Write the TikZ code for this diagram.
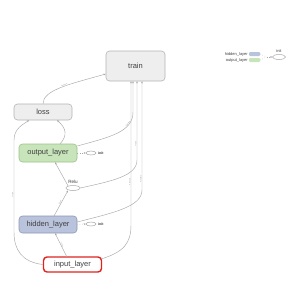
\documentclass[tikz,border=0pt]{standalone}
\usepackage{fontspec}
\setmainfont{Liberation Sans}
\usetikzlibrary{arrows.meta,shapes.geometric,positioning}
\definecolor{boxgray}{HTML}{EEEEEE}
\definecolor{boxgrayline}{HTML}{B5B5B5}
\definecolor{greenfill}{HTML}{C8E4BA}
\definecolor{greenline}{HTML}{9CC488}
\definecolor{bluefill}{HTML}{B9C3DB}
\definecolor{blueline}{HTML}{8C98B8}
\definecolor{redline}{HTML}{E0231F}
\definecolor{edgecol}{HTML}{A8A8A8}
\definecolor{txt}{HTML}{404040}
\tikzset{
  opbox/.style={draw=boxgrayline,fill=boxgray,rounded corners=3.5pt,line width=0.6pt,
    inner sep=0pt,font=\fontsize{7.5}{8}\selectfont,text=txt},
  greenbox/.style={opbox,draw=greenline,fill=greenfill},
  bluebox/.style={opbox,draw=blueline,fill=bluefill},
  redbox/.style={opbox,draw=redline,fill=white,line width=1.4pt},
  smallell/.style={draw=edgecol,fill=white,ellipse,inner sep=0pt,line width=0.5pt},
  tinytxt/.style={font=\fontsize{4}{4}\selectfont,text=txt,inner sep=0pt},
  edge/.style={draw=edgecol,line width=0.45pt,-{Stealth[length=2.2pt,width=1.8pt]}},
  ctrl/.style={draw=edgecol,line width=0.45pt,dotted,-{Stealth[length=2pt,width=1.8pt]}},
  elab/.style={font=\fontsize{1.6}{1.6}\selectfont,text=gray,inner sep=0pt,sloped},
  swatch/.style={rounded corners=1pt,inner sep=0pt,minimum width=11pt,minimum height=4pt}
}
\begin{document}
\begin{tikzpicture}[x=1pt,y=-1pt]
\useasboundingbox[fill=white] (0,0) rectangle (300,300);

% nodes
\node[opbox,minimum width=59pt,minimum height=30pt] (train) at (135.5,66) {train};
\node[opbox,minimum width=58pt,minimum height=16pt] (loss) at (43,112) {loss};
\node[greenbox,minimum width=58pt,minimum height=18pt] (out) at (48,153) {output\_layer};
\node[bluebox,minimum width=58pt,minimum height=17pt] (hid) at (48,224.5) {hidden\_layer};
\node[redbox,minimum width=58pt,minimum height=15pt] (inp) at (72.5,264.5) {input\_layer};
\node[smallell,minimum width=14pt,minimum height=5pt] (relu) at (73,188) {};
\node[tinytxt,font=\fontsize{4.6}{4.6}\selectfont,above=1.5pt of relu] (relulab) {Relu};
\node[smallell,minimum width=10pt,minimum height=4pt] (init1) at (91,153) {};
\node[tinytxt,font=\fontsize{3.5}{3.5}\selectfont\bfseries,anchor=west] (init1lab) at (98,153) {init};
\node[smallell,minimum width=10pt,minimum height=4pt] (init2) at (91,224) {};
\node[tinytxt,font=\fontsize{3.5}{3.5}\selectfont\bfseries,anchor=west] (init2lab) at (98,224) {init};

% legend
\node[swatch,fill=bluefill] (sw1) at (254.5,54) {};
\node[swatch,fill=greenfill] (sw2) at (254.5,60) {};
\node[tinytxt,anchor=east] (lg1) at (248,54) {hidden\_layer};
\node[tinytxt,anchor=east] (lg2) at (248,60) {output\_layer};
\node[smallell,minimum width=13pt,minimum height=5pt] (init3) at (279,57) {};
\node[tinytxt,above=2pt of init3] (init3lab) {init};
\coordinate (lj) at (267,57);
\draw[draw=edgecol,line width=0.45pt,dotted] (sw1.east) -- (lj);
\draw[draw=edgecol,line width=0.45pt,dotted] (sw2.east) -- (lj);
\draw[ctrl] (lj) -- (init3.west);

% control edges
\draw[ctrl] (out.east) -- (init1.west);
\draw[ctrl] (hid.east) -- (init2.west);

% data edges
\draw[edge] (loss.north) .. controls (43,90) and (70,84) .. node[elab,above=0.4pt,pos=0.55]{2 tensors} (train.west |- 0,74);
\draw[edge] (60,144) .. controls (68,135) and (66,128) .. node[elab,right=0.3pt,pos=0.5]{?} (57,120.2);
\draw[edge] (inp.west) .. controls (22,262) and (14,250) .. (14,232) -- node[elab,above=0.3pt,pos=0.4]{?×784} (14,140) .. controls (14,128) and (24,124) .. (29,120.2);
\draw[edge] (out.east |- 0,146) .. controls (110,137) and (133,132) .. node[elab,above=0.3pt,pos=0.75]{6 tensors} (133,112) -- (133,81.2);
\draw[edge] (101,259) .. controls (124,252) and (131,243) .. (131,225) -- node[elab,above=0.3pt,pos=0.3]{4 tensors} (131,81.2);
\draw[edge] (relu.east) .. controls (112,181) and (137,176) .. (137,160) -- node[elab,above=0.3pt,pos=0.2]{?×500} (137,81.2);
\draw[edge] (hid.east |- 0,222) .. controls (112,213) and (142,207) .. (142,190) -- node[elab,above=0.3pt,pos=0.1]{4 tensors} (142,81.2);
\draw[edge] (67,257) -- node[elab,above=0.3pt]{?×784} (55,233.2);
\draw[edge] (54,216) -- node[elab,above=0.3pt]{?×500} (68,190.5);
\draw[edge] (68,185.8) -- (55,162.2);
\end{tikzpicture}
\end{document}
